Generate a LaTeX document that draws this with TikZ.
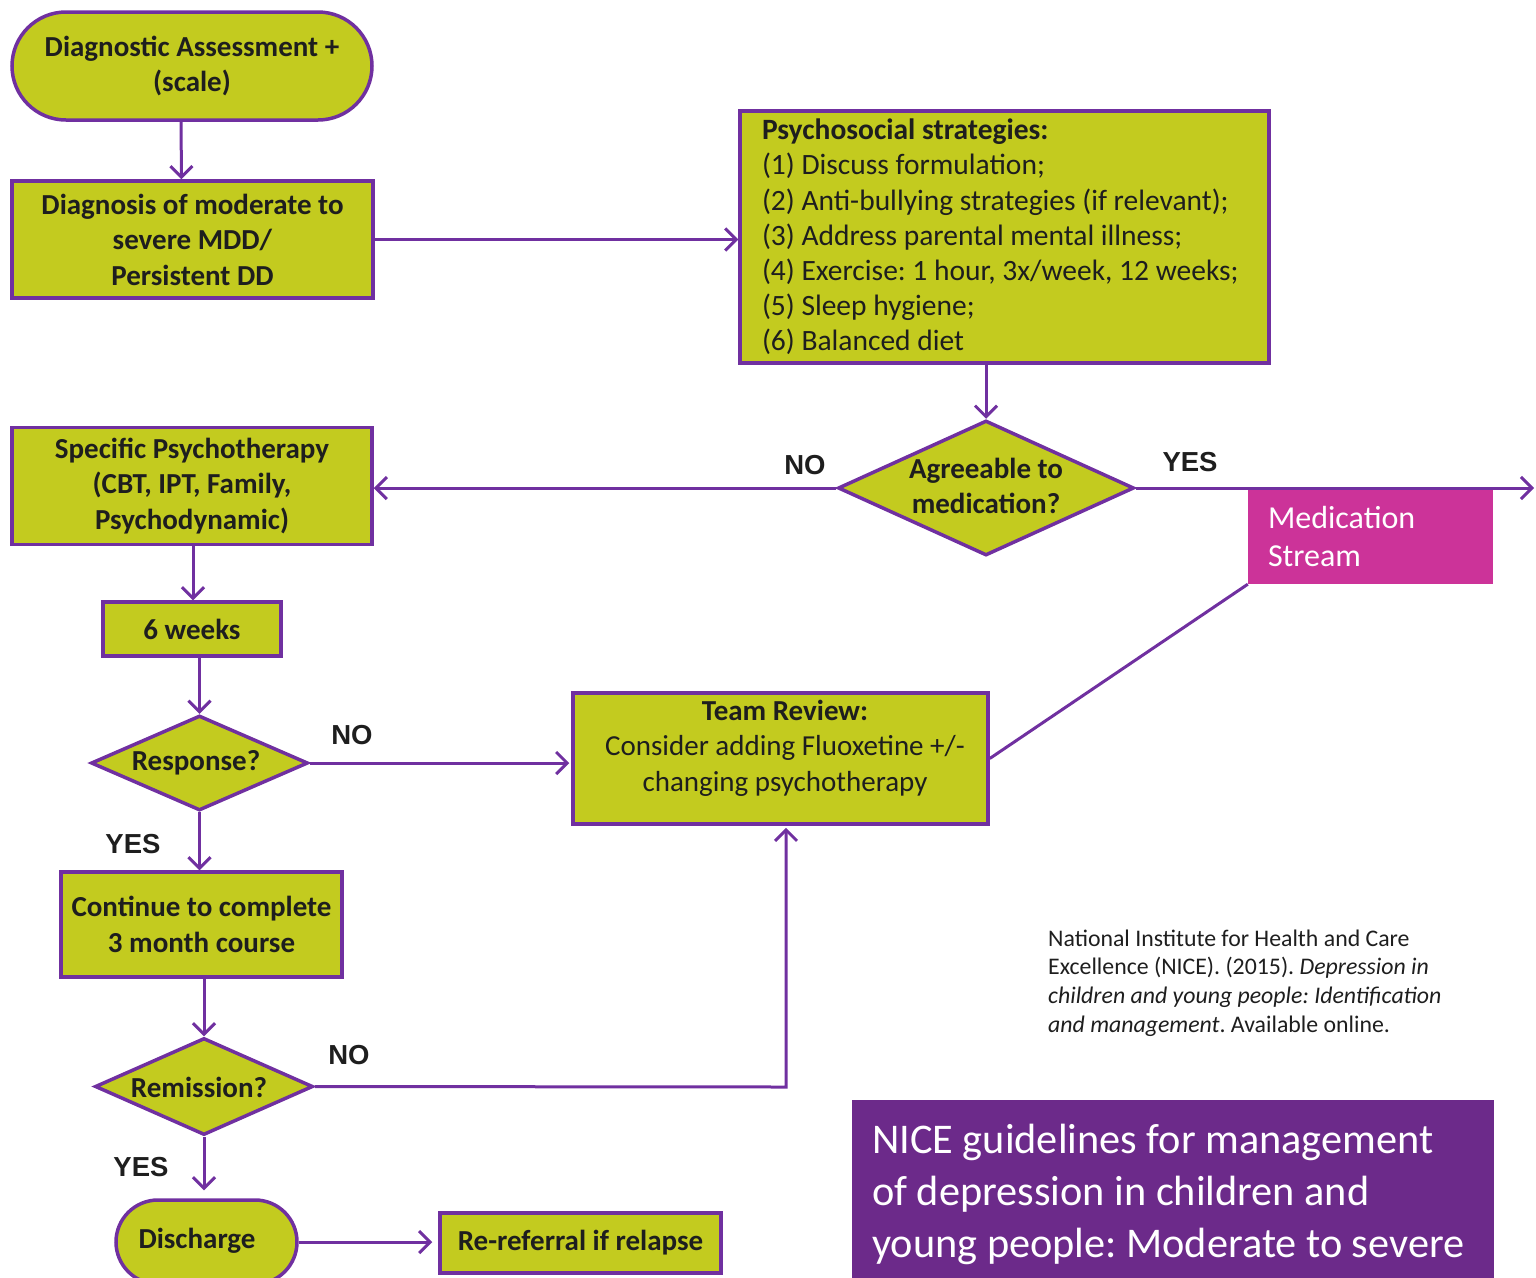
\documentclass[tikz,border=0pt]{standalone}
\usepackage{fontspec}
\setmainfont{Carlito}
\newfontfamily\labelfont{Liberation Sans}
\usetikzlibrary{shapes.geometric,arrows.meta}
\definecolor{lime}{HTML}{C3CB1F}
\definecolor{plum}{HTML}{7030A0}
\definecolor{titlepurple}{HTML}{6C2A8A}
\definecolor{medpink}{HTML}{CC3399}
\definecolor{ink}{HTML}{1E1E1E}
\frenchspacing
\begin{document}
\begin{tikzpicture}[x=1pt,y=-1pt,
  base/.style={draw=plum, line width=3.5pt, fill=lime, text=ink, align=center, inner sep=0pt,
    font=\bfseries\fontsize{29}{35.5}\selectfont},
  boxnode/.style={base, rectangle},
  stadium/.style={base, rectangle, rounded corners=#1},
  decision/.style={base, diamond, aspect=1},
  inner/.style={text=ink, align=center, inner sep=0pt, font=\bfseries\fontsize{29}{35.5}\selectfont},
  conn/.style={draw=plum, line width=3pt},
  arr/.style={conn, -{Straight Barb[length=11pt,width=22pt]}},
  answer/.style={text=ink, font=\labelfont\bfseries\fontsize{27.5}{30}\selectfont, inner sep=0pt}
]
\useasboundingbox (0,0) rectangle (1536,1277);

% flow nodes
\node[stadium=54pt, minimum width=360, minimum height=108] (start) at (192,66)
  {Diagnostic Assessment +\\(scale)};
\node[boxnode, minimum width=361, minimum height=117] (diag) at (192.5,239.5)
  {Diagnosis of moderate to\\severe MDD/\\Persistent DD};
\node[boxnode, minimum width=529, minimum height=252, text width=485, align=flush left,
  font=\fontsize{29.5}{35.2}\selectfont] (psy) at (1004.5,237)
  {\textbf{Psychosocial strategies:}\\
   (1) Discuss formulation;\\
   (2) Anti-bullying strategies (if relevant);\\
   (3) Address parental mental illness;\\
   (4) Exercise: 1 hour, 3x/week, 12 weeks;\\
   (5) Sleep hygiene;\\
   (6) Balanced diet};
\node[decision, minimum width=296, minimum height=135] (agree) at (986,488) {};
\node[inner] (agreetext) at (986,486) {Agreeable to\\medication?};
\node[boxnode, minimum width=360, minimum height=117] (spec) at (192,486)
  {Specific Psychotherapy\\(CBT, IPT, Family,\\Psychodynamic)};
\node[boxnode, minimum width=178, minimum height=54] (six) at (192,629) {6 weeks};
\node[decision, minimum width=217, minimum height=95] (resp) at (199.5,763) {};
\node[inner] (resptext) at (196,763) {Response?};
\node[boxnode, minimum width=415, minimum height=131] (team) at (780.5,758.5) {};
\node[text=ink, align=center, inner sep=0pt, font=\fontsize{29}{35.5}\selectfont] (teamtext) at (785,748)
  {\textbf{Team Review:}\\Consider adding Fluoxetine +/-\\changing psychotherapy};
\node[rectangle, fill=medpink, text=white, minimum width=245, minimum height=95,
  text width=205, align=flush left, inner sep=0pt, font=\fontsize{32}{38}\selectfont] (medstream) at (1370.5,536.5)
  {Medication\\Stream};
\node[boxnode, minimum width=281, minimum height=105] (cont) at (201.5,924.5)
  {Continue to complete\\3 month course};
\node[decision, minimum width=218, minimum height=97] (remis) at (204,1086.5) {};
\node[inner] (remistext) at (199,1087) {Remission?};
\node[stadium=42pt, minimum width=181, minimum height=84] (disch) at (206.5,1242) {};
\node[inner] (dischtext) at (197,1241) {Discharge};
\node[boxnode, minimum width=281, minimum height=60] (reref) at (580.5,1243) {Re-referral if relapse};

% reference and title
\node[anchor=west, text=ink, align=left, inner sep=0pt, font=\fontsize{23.8}{28.7}\selectfont] (cite) at (1048,983)
  {National Institute for Health and Care\\
   Excellence (NICE). (2015). \textit{Depression in}\\
   \textit{children and young people: Identification}\\
   \textit{and management}. Available online.};
\node[anchor=north west, rectangle, fill=titlepurple, text=white, minimum width=642, minimum height=240,
  text width=602, align=flush left, inner xsep=20pt, inner ysep=13pt, font=\fontsize{42.3}{52}\selectfont] (title) at (852,1100)
  {NICE guidelines for management\\of depression in children and\\young people: Moderate to severe\\depression};

% connectors
\coordinate (rightedge) at (1534,488);
\coordinate (nocorner) at (786,1087);
\draw[arr] ([xshift=-11pt]start.south) -- ([xshift=-11pt]diag.north);
\draw[arr] (diag.east) -- (diag.east -| psy.west);
\draw[arr] (agree.north |- psy.south) -- (agree.north);
\draw[arr] (agree.west) -- (agree.west -| spec.east);
\draw[arr] (agree.east) -- (rightedge);
\draw[arr] ([xshift=1pt]spec.south) -- ([xshift=1pt]six.north);
\draw[arr] (resp.north |- six.south) -- (resp.north);
\draw[arr, shorten >=2pt] (resp.east) -- (resp.east -| team.west);
\draw[arr] (resp.south) -- (resp.south |- cont.north);
\draw[conn] (medstream.south west) -- (team.east);
\draw[arr] (remis.north |- cont.south) -- (remis.north);
\draw[arr, shorten >=2pt] (remis.east) -- (nocorner) -- (nocorner |- team.south);
\draw[arr, shorten >=8pt] (remis.south) -- (remis.south |- disch.north);
\draw[arr, shorten >=6pt] (disch.east) -- (disch.east -| reref.west);

% branch labels
\node[answer] (noagree) at (805,465) {NO};
\node[answer] (yesagree) at (1190,462) {YES};
\node[answer] (noresp) at (352,735) {NO};
\node[answer] (yesresp) at (133,844) {YES};
\node[answer] (noremis) at (349,1055) {NO};
\node[answer] (yesremis) at (141,1167) {YES};
\end{tikzpicture}
\end{document}
